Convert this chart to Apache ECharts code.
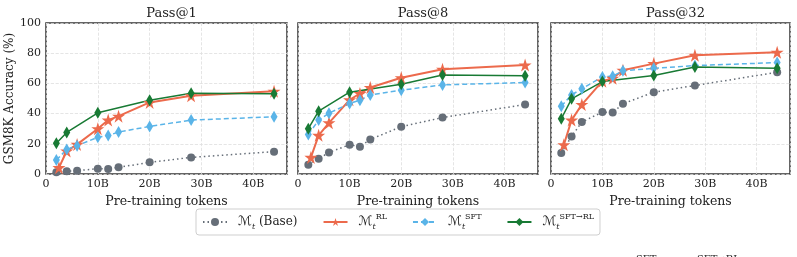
<!DOCTYPE html>
<html>
<head>
<meta charset="utf-8">
<script src="https://cdn.jsdelivr.net/npm/echarts@6/dist/echarts.min.js"></script>
<style>
  html, body { margin: 0; padding: 0; background: #fff; }
  #chart { width: 797px; height: 257px; }
</style>
</head>
<body>
<div id="chart"></div>
<script>
// pre-training tokens (billions)
const tokens = [2, 4, 6, 10, 12, 14, 20, 28, 44];
const tokensRL = [2.5, 4, 6, 10, 12, 14, 20, 28, 44];
const tokensSftRl = [2, 4, 10, 20, 28, 44];

const panelTitles = ['Pass@1', 'Pass@8', 'Pass@32'];
const seriesNames = ['Base', 'RL', 'SFT', 'SFT→RL'];
const xTickLabels = { 0: '0', 10: '10B', 20: '20B', 30: '30B', 40: '40B' };

// GSM8K accuracy (%)
const baseAcc = [
  [1.1, 1.8, 2.2, 3.5, 3.3, 4.4, 7.7, 11.0, 14.8],
  [6.2, 10.1, 14.3, 19.4, 18.1, 22.9, 31.3, 37.4, 46.0],
  [13.9, 24.9, 34.4, 41.0, 40.7, 46.5, 54.2, 58.6, 67.4]
];
const rlAcc = [
  [4.2, 15.2, 19.6, 30.0, 35.7, 38.3, 47.4, 51.8, 54.8],
  [11.0, 25.6, 33.9, 49.1, 53.3, 57.3, 63.7, 69.4, 72.2],
  [19.4, 35.7, 46.0, 61.5, 63.4, 68.7, 73.1, 78.6, 80.6]
];
const sftAcc = [
  [9.2, 16.3, 18.7, 24.4, 25.5, 27.8, 31.5, 35.7, 37.9],
  [26.2, 35.7, 40.3, 46.7, 48.9, 52.4, 55.5, 59.0, 60.6],
  [44.9, 52.4, 56.4, 64.3, 64.8, 68.3, 70.0, 71.8, 73.8]
];
const sftRlAcc = [
  [20.3, 27.5, 40.5, 48.9, 53.5, 53.1],
  [30.0, 41.6, 54.2, 59.5, 65.6, 65.0],
  [36.6, 49.8, 61.2, 65.2, 70.9, 70.0]
];

const font = 'DejaVu Serif';
const colors = { Base: '#666e78', RL: '#ec6a4c', SFT: '#5ab4e8', 'SFT→RL': '#187a34' };

const pair = (xs, ys) => xs.map((x, i) => [x, ys[i]]);

const grids = [
  { left: 46, top: 23, width: 241, height: 151 },
  { left: 298, top: 23, width: 240, height: 151 },
  { left: 551, top: 23, width: 239, height: 151 }
];

const option = {
  animation: false,
  backgroundColor: '#fff',
  textStyle: { fontFamily: font },
  title: panelTitles.map((t, i) => ({
    text: t,
    left: grids[i].left + grids[i].width / 2,
    top: 2,
    textAlign: 'center',
    textStyle: { fontFamily: font, fontSize: 13, fontWeight: 'normal', color: '#222' }
  })),
  grid: grids.map(g => Object.assign({
    show: true, borderColor: '#333', borderWidth: 1.5, backgroundColor: '#fff'
  }, g)),
  xAxis: grids.map((g, i) => ({
    type: 'value',
    gridIndex: i,
    min: 0,
    max: 46.5,
    interval: 10,
    name: 'Pre-training tokens',
    nameLocation: 'middle',
    nameGap: 19,
    nameTextStyle: { fontFamily: font, fontSize: 12.5, color: '#222' },
    axisLine: { show: false },
    axisTick: { show: false },
    axisLabel: {
      fontFamily: font, fontSize: 11, color: '#222', margin: 5,
      showMaxLabel: false,
      formatter: v => xTickLabels[v] !== undefined ? xTickLabels[v] : ''
    },
    splitLine: { lineStyle: { color: '#dedede', type: 'dashed', width: 0.8 } }
  })),
  yAxis: grids.map((g, i) => ({
    type: 'value',
    gridIndex: i,
    min: 0,
    max: 100,
    interval: 20,
    name: i === 0 ? 'GSM8K Accuracy (%)' : '',
    nameLocation: 'middle',
    nameGap: 28,
    nameTextStyle: { fontFamily: font, fontSize: 12, color: '#222' },
    axisLine: { show: false },
    axisTick: { show: false },
    axisLabel: { show: i === 0, fontFamily: font, fontSize: 11, color: '#222', margin: 5 },
    splitLine: { lineStyle: { color: '#dedede', type: 'dashed', width: 0.8 } }
  })),
  legend: {
    data: seriesNames,
    left: 196,
    top: 209,
    padding: [4, 6, 4, 6],
    itemGap: 25,
    itemWidth: 24,
    itemHeight: 10,
    borderColor: '#cfcfcf',
    borderWidth: 1,
    borderRadius: 3,
    formatter: function (name) {
      if (name === 'Base') return '{m|ℳ}{t|t} (Base)';
      return '{m|ℳ}{t|t}{s|' + name + '}';
    },
    textStyle: {
      fontFamily: font, fontSize: 12, color: '#222',
      padding: [0, 0, 0, 6],
      rich: {
        m: { fontFamily: 'DejaVu Sans', fontSize: 13, fontStyle: 'italic', color: '#222', height: 18, verticalAlign: 'middle' },
        t: { fontFamily: font, fontSize: 8, fontStyle: 'italic', color: '#222', verticalAlign: 'bottom', padding: [6, 0, 0, 0] },
        s: { fontFamily: font, fontSize: 8, color: '#222', verticalAlign: 'top', padding: [0, 0, 6, 0] }
      }
    }
  },
  graphic: [
    { type: 'text', left: 636, top: 254, style: { text: 'SFT', font: '10px "DejaVu Serif"', fill: '#222' } },
    { type: 'text', left: 697, top: 254, style: { text: 'SFT→RL', font: '10px "DejaVu Serif"', fill: '#222' } }
  ],
  series: []
};

for (let i = 0; i < 3; i++) {
  option.series.push(
    {
      name: 'Base', type: 'line', xAxisIndex: i, yAxisIndex: i,
      data: pair(tokens, baseAcc[i]),
      symbol: 'circle', symbolSize: 8,
      itemStyle: { color: colors.Base },
      lineStyle: { color: colors.Base, width: 1.5, type: [1.5, 3] }
    },
    {
      name: 'RL', type: 'line', xAxisIndex: i, yAxisIndex: i,
      data: pair(tokensRL, rlAcc[i]),
      symbol: 'path://M50,0 L61.8,35.4 L100,35.4 L69.1,57.3 L80.9,92.7 L50,70.8 L19.1,92.7 L30.9,57.3 L0,35.4 L38.2,35.4 Z',
      symbolSize: 13,
      itemStyle: { color: colors.RL },
      lineStyle: { color: colors.RL, width: 2 }
    },
    {
      name: 'SFT', type: 'line', xAxisIndex: i, yAxisIndex: i,
      data: pair(tokens, sftAcc[i]),
      symbol: 'diamond', symbolSize: [7, 12],
      itemStyle: { color: colors.SFT },
      lineStyle: { color: colors.SFT, width: 1.5, type: [5, 3] }
    },
    {
      name: 'SFT→RL', type: 'line', xAxisIndex: i, yAxisIndex: i,
      data: pair(tokensSftRl, sftRlAcc[i]),
      symbol: 'diamond', symbolSize: [7, 12],
      itemStyle: { color: colors['SFT→RL'] },
      lineStyle: { color: colors['SFT→RL'], width: 1.5 }
    }
  );
}

const chart = echarts.init(document.getElementById('chart'), null, { renderer: 'canvas' });
chart.setOption(option);
</script>
</body>
</html>
